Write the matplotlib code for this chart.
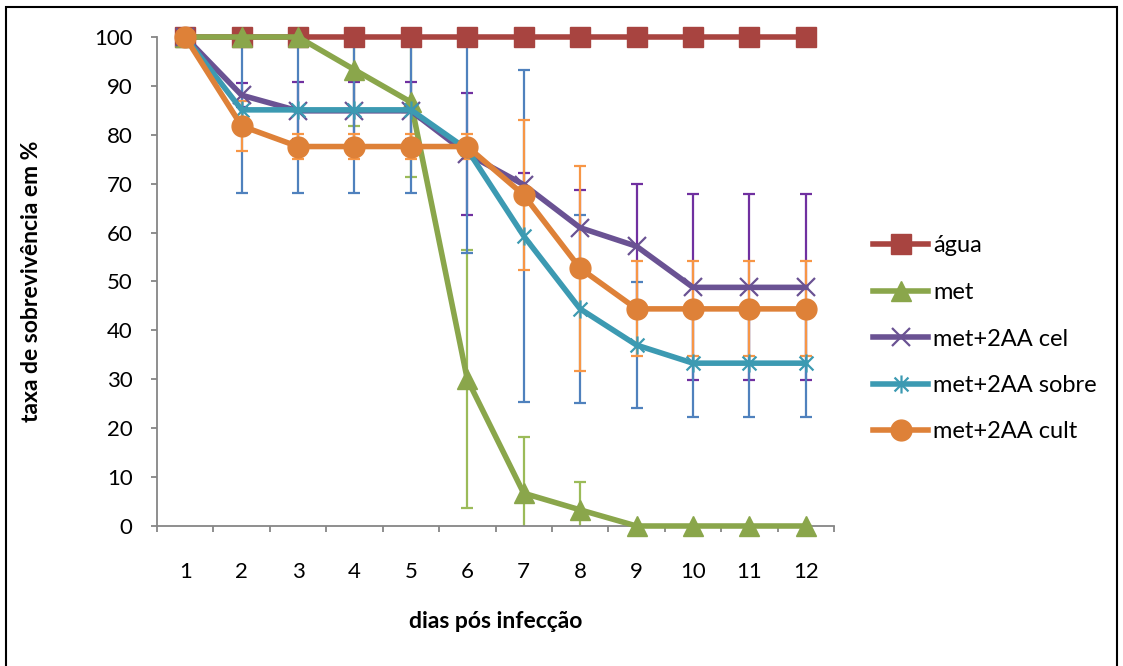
import matplotlib
matplotlib.use("Agg")
import matplotlib.pyplot as plt
from matplotlib.path import Path
from matplotlib.patches import Rectangle

plt.rcParams['font.family'] = ['Lato', 'DejaVu Sans']

dias = [1, 2, 3, 4, 5, 6, 7, 8, 9, 10, 11, 12]
series = ['água', 'met', 'met+2AA cel', 'met+2AA sobre', 'met+2AA cult']

agua = [100, 100, 100, 100, 100, 100, 100, 100, 100, 100, 100, 100]
agua_err = [0, 0, 0, 0, 0, 0, 0, 0, 0, 0, 0, 0]
met = [100, 100, 100, 93.3, 86.7, 30, 6.7, 3.3, 0, 0, 0, 0]
met_err = [0, 0, 0, 11.5, 15.3, 26.4, 11.4, 5.8, 0, 0, 0, 0]
cel = [100, 88.1, 84.9, 84.9, 84.9, 76.1, 69.8, 61.0, 57.2, 48.8, 48.8, 48.8]
cel_err = [0, 2.4, 5.8, 5.8, 5.8, 12.4, 2.3, 7.8, 12.8, 19.0, 19.0, 19.0]
sobre = [100, 85.1, 85.1, 85.1, 85.1, 77.0, 59.3, 44.4, 37.0, 33.3, 33.3, 33.3]
sobre_err = [0, 17.0, 17.0, 17.0, 17.0, 21.2, 34.0, 19.3, 12.8, 11.1, 11.1, 11.1]
cult = [100, 81.8, 77.6, 77.6, 77.6, 77.6, 67.7, 52.7, 44.4, 44.4, 44.4, 44.4]
cult_err = [0, 5.1, 2.5, 2.5, 2.5, 2.5, 15.4, 21.0, 9.7, 9.7, 9.7, 9.7]

# asterisco estilo Excel (x + traço vertical)
star = Path([(-1, -1), (1, 1), (-1, 1), (1, -1), (0, -1.3), (0, 1.3)],
            [Path.MOVETO, Path.LINETO] * 3)

styles = [
    # valores, erro, cor linha, cor erro, marcador, tamanho
    (agua, agua_err, '#A84440', '#C0504D', 's', 14),
    (met, met_err, '#8AA64B', '#9BBB59', '^', 14),
    (cel, cel_err, '#6A5293', '#7030A0', 'x', 13),
    (sobre, sobre_err, '#3C9AB2', '#4F81BD', star, 13),
    (cult, cult_err, '#DE8138', '#F79646', 'o', 15),
]

fig = plt.figure(figsize=(11.23, 6.66), dpi=100)
ax = fig.add_axes([157 / 1123, 1 - 526 / 666, (834 - 157) / 1123, (526 - 37) / 666])

for i, (vals, err, col, ecol, mk, ms) in enumerate(styles):
    if any(e > 0 for e in err):
        ax.errorbar(dias, vals, yerr=err, fmt='none', ecolor=ecol,
                    elinewidth=1.6, capsize=4.5, capthick=1.6, zorder=2 + i * 0.1)
for i, (vals, err, col, ecol, mk, ms) in enumerate(styles):
    filled = mk in ('s', '^', 'o')
    ax.plot(dias, vals, color=col, lw=4.0, marker=mk, markersize=ms,
            markerfacecolor=col, markeredgecolor=col,
            markeredgewidth=1.0 if filled else 1.6,
            label=series[i], zorder=3 + i, clip_on=False)

ax.set_xlim(0.5, 12.5)
ax.set_ylim(0, 100)
ax.set_yticks(range(0, 101, 10))
ax.set_xticks(dias)
ax.set_xticks([d - 0.5 for d in dias] + [12.5], minor=True)

for s in ['top', 'right']:
    ax.spines[s].set_visible(False)
for s in ['left', 'bottom']:
    ax.spines[s].set_color('#868686')
    ax.spines[s].set_linewidth(1.3)

ax.tick_params(axis='y', which='major', length=4.5, width=1.3, color='#868686',
               pad=13, labelsize=16)
ax.tick_params(axis='x', which='major', length=0, pad=26, labelsize=16)
ax.tick_params(axis='x', which='minor', length=4.5, width=1.3, color='#868686')

fig.text(32 / 1123, 1 - 281.5 / 666, 'taxa de sobrevivência em %', rotation=90,
         ha='center', va='center', fontsize=16.5, fontweight='bold')
fig.text(495.5 / 1123, 1 - 622 / 666, 'dias pós infecção',
         ha='center', va='center', fontsize=16.5, fontweight='bold')

ax.legend(loc='center left', bbox_to_anchor=(873 / 1123, 1 - 339 / 666),
          bbox_transform=fig.transFigure, frameon=False, fontsize=17,
          borderaxespad=0, borderpad=0, handlelength=2.35, handletextpad=0.2,
          labelspacing=1.08)

fig.patches.append(Rectangle((6 / 1123, -0.01), (1117 - 6) / 1123, 1 - 7 / 666 + 0.01,
                             transform=fig.transFigure, fill=False,
                             edgecolor='black', lw=1.5))

fig.savefig('out.png', dpi=100)
